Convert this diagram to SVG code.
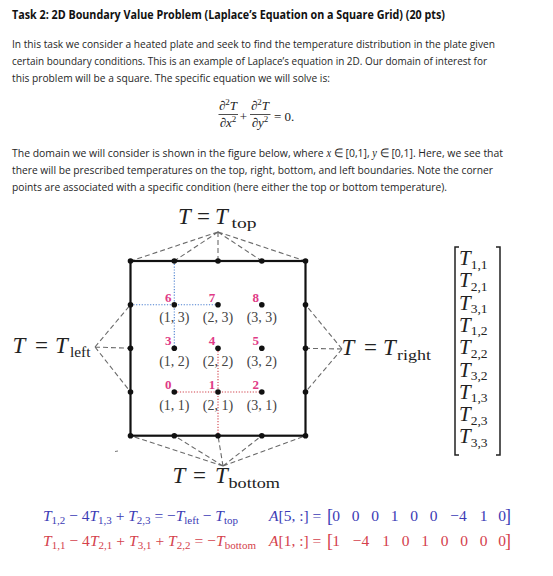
<svg xmlns="http://www.w3.org/2000/svg" width="553" height="576" viewBox="0 0 553 576">
<style>
.body{font-family:"Open Sans","Liberation Sans",sans-serif;font-size:11.5px;fill:#262626}
.title{font-family:"Open Sans","Liberation Sans",sans-serif;font-size:13px;font-weight:bold;fill:#111}
.m{font-family:"Liberation Serif","DejaVu Serif",serif;fill:#222}
.it{font-style:italic}
.dash{stroke:#6a6a6a;stroke-width:1.1;stroke-dasharray:5 3;fill:none}
.edge{stroke:#111;stroke-width:2.2;fill:none}
.dot{fill:#111}
.num{font-family:"Liberation Serif","DejaVu Serif",serif;font-size:13px;font-weight:bold;fill:#e03a86;text-anchor:middle}
.crd{font-family:"Liberation Serif","DejaVu Serif",serif;font-size:14px;fill:#444;text-anchor:middle}
.blue{fill:#3b3bb5}
.red{fill:#d4414c}
</style>
<rect width="553" height="576" fill="#fff"/>

<g id="text-block">
<text class="title" x="12" y="18.5" textLength="433" lengthAdjust="spacingAndGlyphs">Task 2: 2D Boundary Value Problem (Laplace’s Equation on a Square Grid) (20 pts)</text>
<text class="body" x="12" y="47.5" textLength="483" lengthAdjust="spacingAndGlyphs">In this task we consider a heated plate and seek to find the temperature distribution in the plate given</text>
<text class="body" x="12" y="64.5" textLength="475" lengthAdjust="spacingAndGlyphs">certain boundary conditions. This is an example of Laplace’s equation in 2D. Our domain of interest for</text>
<text class="body" x="12" y="81.5" textLength="318" lengthAdjust="spacingAndGlyphs">this problem will be a square. The specific equation we will solve is:</text>
<text class="body" x="12" y="157" textLength="491" lengthAdjust="spacingAndGlyphs">The domain we will consider is shown in the figure below, where <tspan class="it" font-family="Liberation Serif,serif">x</tspan> ∈ [0,1], <tspan class="it" font-family="Liberation Serif,serif">y</tspan> ∈ [0,1]. Here, we see that</text>
<text class="body" x="12" y="174" textLength="481" lengthAdjust="spacingAndGlyphs">there will be prescribed temperatures on the top, right, bottom, and left boundaries. Note the corner</text>
<text class="body" x="12" y="191" textLength="435" lengthAdjust="spacingAndGlyphs">points are associated with a specific condition (here either the top or bottom temperature).</text>
</g>

<g id="laplace-equation" class="m" font-size="13">
<text x="228" y="110" text-anchor="middle">∂<tspan font-size="9" dy="-5">2</tspan><tspan class="it" dy="5">T</tspan></text>
<line x1="218.5" y1="114.5" x2="238" y2="114.5" stroke="#222" stroke-width="0.8"/>
<text x="228" y="127" text-anchor="middle">∂<tspan class="it">x</tspan><tspan font-size="9" dy="-5">2</tspan></text>
<text x="243.5" y="120.5" text-anchor="middle">+</text>
<text x="260" y="110" text-anchor="middle">∂<tspan font-size="9" dy="-5">2</tspan><tspan class="it" dy="5">T</tspan></text>
<line x1="250" y1="114.5" x2="270.5" y2="114.5" stroke="#222" stroke-width="0.8"/>
<text x="260" y="127" text-anchor="middle">∂<tspan class="it">y</tspan><tspan font-size="9" dy="-5">2</tspan></text>
<text x="274" y="120.5">= 0.</text>
</g>

<g id="connectors">
<path class="dash" d="M218,232 L130.5,261 M218,232 L174.3,261 M218,232 L218,261 M218,232 L261.8,261 M218,232 L305.5,261"/>
<path class="dash" d="M95,347 L130.5,304.7 M95,347 L130.5,348.3 M95,347 L130.5,392"/>
<path class="dash" d="M342,349 L305.5,304.7 M342,349 L305.5,348.3 M342,349 L305.5,392"/>
<path class="dash" d="M223,466 L130.5,435.7 M223,466 L174.3,435.7 M223,466 L218,435.7 M223,466 L261.8,435.7 M223,466 L305.5,435.7"/>
<line x1="115" y1="451.5" x2="118" y2="451" stroke="#777" stroke-width="1"/>
<path d="M174.3,261 V348.3 M130.5,304.7 H218" stroke="#4a7fd0" stroke-width="1.1" stroke-dasharray="1.2 1.6" fill="none"/>
<path d="M174.3,392 H261.8 M218,348.3 V435.7" stroke="#d0404a" stroke-width="1.1" stroke-dasharray="1.2 1.6" fill="none"/>
</g>

<g id="boundary">
<rect class="edge" x="130.5" y="261" width="175" height="174.7"/>
<g class="dot">
<circle cx="130.5" cy="261" r="2.8"/><circle cx="174.3" cy="261" r="2.8"/><circle cx="218" cy="261" r="2.8"/><circle cx="261.8" cy="261" r="2.8"/><circle cx="305.5" cy="261" r="2.8"/>
<circle cx="130.5" cy="435.7" r="2.8"/><circle cx="174.3" cy="435.7" r="2.8"/><circle cx="218" cy="435.7" r="2.8"/><circle cx="261.8" cy="435.7" r="2.8"/><circle cx="305.5" cy="435.7" r="2.8"/>
<circle cx="130.5" cy="304.7" r="2.8"/><circle cx="130.5" cy="348.3" r="2.8"/><circle cx="130.5" cy="392" r="2.8"/>
<circle cx="305.5" cy="304.7" r="2.8"/><circle cx="305.5" cy="348.3" r="2.8"/><circle cx="305.5" cy="392" r="2.8"/>
</g>
</g>

<g id="node-0"><circle class="dot" cx="174.3" cy="392" r="2.8"/><text class="num" x="168.3" y="389">0</text><text class="crd" x="174.3" y="409.5">(1, 1)</text></g>
<g id="node-1"><circle class="dot" cx="218" cy="392" r="2.8"/><text class="num" x="212" y="389">1</text><text class="crd" x="218" y="409.5">(2, 1)</text></g>
<g id="node-2"><circle class="dot" cx="261.8" cy="392" r="2.8"/><text class="num" x="255.8" y="389">2</text><text class="crd" x="261.8" y="409.5">(3, 1)</text></g>
<g id="node-3"><circle class="dot" cx="174.3" cy="348.3" r="2.8"/><text class="num" x="168.3" y="345.3">3</text><text class="crd" x="174.3" y="365.8">(1, 2)</text></g>
<g id="node-4"><circle class="dot" cx="218" cy="348.3" r="2.8"/><text class="num" x="212" y="345.3">4</text><text class="crd" x="218" y="365.8">(2, 2)</text></g>
<g id="node-5"><circle class="dot" cx="261.8" cy="348.3" r="2.8"/><text class="num" x="255.8" y="345.3">5</text><text class="crd" x="261.8" y="365.8">(3, 2)</text></g>
<g id="node-6"><circle class="dot" cx="174.3" cy="304.7" r="2.8"/><text class="num" x="168.3" y="301.7">6</text><text class="crd" x="174.3" y="322.2">(1, 3)</text></g>
<g id="node-7"><circle class="dot" cx="218" cy="304.7" r="2.8"/><text class="num" x="212" y="301.7">7</text><text class="crd" x="218" y="322.2">(2, 3)</text></g>
<g id="node-8"><circle class="dot" cx="261.8" cy="304.7" r="2.8"/><text class="num" x="255.8" y="301.7">8</text><text class="crd" x="261.8" y="322.2">(3, 3)</text></g>

<g id="label-top" class="m">
<text y="224" font-size="23"><tspan class="it" x="178">T</tspan><tspan x="197">=</tspan><tspan class="it" x="215">T</tspan></text>
<text x="231.5" y="228" font-size="15.5" textLength="25" lengthAdjust="spacingAndGlyphs">top</text>
</g>
<g id="label-left" class="m">
<text y="353" font-size="23"><tspan class="it" x="12.5">T</tspan><tspan x="35">=</tspan><tspan class="it" x="55">T</tspan></text>
<text x="70" y="357" font-size="15.5" textLength="20.5" lengthAdjust="spacingAndGlyphs">left</text>
</g>
<g id="label-right" class="m">
<text y="355" font-size="23"><tspan class="it" x="341.5">T</tspan><tspan x="364">=</tspan><tspan class="it" x="383">T</tspan></text>
<text x="397" y="359.5" font-size="15.5" textLength="34" lengthAdjust="spacingAndGlyphs">right</text>
</g>
<g id="label-bottom" class="m">
<text y="483" font-size="23"><tspan class="it" x="172.5">T</tspan><tspan x="193">=</tspan><tspan class="it" x="215">T</tspan></text>
<text x="228.5" y="487.5" font-size="15.5" textLength="51.5" lengthAdjust="spacingAndGlyphs">bottom</text>
</g>

<g id="unknown-vector" class="m">
<path d="M459,247 H455 V455 H459 M496,247 H500 V455 H496" stroke="#222" stroke-width="1.5" fill="none"/>
<g font-size="21">
<text x="459" y="265"><tspan class="it">T</tspan><tspan font-size="13.5" dy="3.5">1,1</tspan></text>
<text x="459" y="287.3"><tspan class="it">T</tspan><tspan font-size="13.5" dy="3.5">2,1</tspan></text>
<text x="459" y="309.6"><tspan class="it">T</tspan><tspan font-size="13.5" dy="3.5">3,1</tspan></text>
<text x="459" y="331.9"><tspan class="it">T</tspan><tspan font-size="13.5" dy="3.5">1,2</tspan></text>
<text x="459" y="354.2"><tspan class="it">T</tspan><tspan font-size="13.5" dy="3.5">2,2</tspan></text>
<text x="459" y="376.5"><tspan class="it">T</tspan><tspan font-size="13.5" dy="3.5">3,2</tspan></text>
<text x="459" y="398.8"><tspan class="it">T</tspan><tspan font-size="13.5" dy="3.5">1,3</tspan></text>
<text x="459" y="421.1"><tspan class="it">T</tspan><tspan font-size="13.5" dy="3.5">2,3</tspan></text>
<text x="459" y="443.4"><tspan class="it">T</tspan><tspan font-size="13.5" dy="3.5">3,3</tspan></text>
</g>
</g>

<g id="equation-node6" class="m blue" font-size="15.5">
<text x="43" y="521" class="blue" textLength="195" lengthAdjust="spacing"><tspan class="it">T</tspan><tspan font-size="11" dy="3">1,2</tspan><tspan dy="-3"> − 4</tspan><tspan class="it">T</tspan><tspan font-size="11" dy="3">1,3</tspan><tspan dy="-3"> + </tspan><tspan class="it">T</tspan><tspan font-size="11" dy="3">2,3</tspan><tspan dy="-3"> = −</tspan><tspan class="it">T</tspan><tspan font-size="11" dy="3">left</tspan><tspan dy="-3"> − </tspan><tspan class="it">T</tspan><tspan font-size="11" dy="3">top</tspan></text>
<text x="269" y="521" class="blue"><tspan class="it">A</tspan>[5, :] =</text>
<text y="522" class="blue" font-size="18" x="327">[</text>
<text y="522" class="blue" font-size="18" x="505">]</text>
<text y="521" class="blue" text-anchor="middle"><tspan x="336">0</tspan><tspan x="355.5">0</tspan><tspan x="375">0</tspan><tspan x="394.5">1</tspan><tspan x="414">0</tspan><tspan x="433.5">0</tspan><tspan x="458.5">−4</tspan><tspan x="483.5">1</tspan><tspan x="502">0</tspan></text>
</g>

<g id="equation-node1" class="m red" font-size="15.5">
<text x="43" y="546" class="red" textLength="213" lengthAdjust="spacing"><tspan class="it">T</tspan><tspan font-size="11" dy="3">1,1</tspan><tspan dy="-3"> − 4</tspan><tspan class="it">T</tspan><tspan font-size="11" dy="3">2,1</tspan><tspan dy="-3"> + </tspan><tspan class="it">T</tspan><tspan font-size="11" dy="3">3,1</tspan><tspan dy="-3"> + </tspan><tspan class="it">T</tspan><tspan font-size="11" dy="3">2,2</tspan><tspan dy="-3"> = −</tspan><tspan class="it">T</tspan><tspan font-size="11" dy="3">bottom</tspan></text>
<text x="269" y="546" class="red"><tspan class="it">A</tspan>[1, :] =</text>
<text y="547" class="red" font-size="18" x="327">[</text>
<text y="547" class="red" font-size="18" x="505">]</text>
<text y="546" class="red" text-anchor="middle"><tspan x="336">1</tspan><tspan x="361">−4</tspan><tspan x="386">1</tspan><tspan x="405.5">0</tspan><tspan x="425">1</tspan><tspan x="444.5">0</tspan><tspan x="464">0</tspan><tspan x="483.5">0</tspan><tspan x="502">0</tspan></text>
</g>
</svg>
